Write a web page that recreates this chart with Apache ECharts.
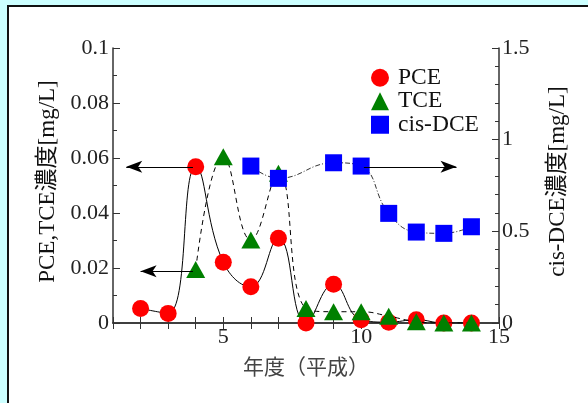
<!DOCTYPE html>
<html><head><meta charset="utf-8">
<script src="https://cdn.jsdelivr.net/npm/echarts@6/dist/echarts.min.js"></script>
<style>html,body{margin:0;padding:0;}#c{width:588px;height:403px;}</style>
</head><body><div id="c"></div>
<script>
var pceData = [[2,0.0053],[3,0.0035],[4,0.0568],[5,0.0221],[6,0.0132],[7,0.0308],[8,0.0],[9,0.0141],[10,0.0012],[11,0.0003],[12,0.0012],[13,0.0],[14,0.0]];
var tceData = [[4,0.0195],[5,0.0605],[6,0.0302],[7,0.0545],[8,0.0053],[9,0.0041],[10,0.0041],[11,0.0025],[12,0.0005],[13,0.0],[14,0.0]];
var dceData = [[6,0.856],[7,0.789],[9,0.874],[10,0.856],[11,0.598],[12,0.496],[13,0.489],[14,0.525]];
var leftTicks = [0,0.02,0.04,0.06,0.08,0.1];
var rightTicks = [0,0.5,1,1.5];
var xTickLabels = [5,10,15];
var arrowLeft1 = [[3.9,0.0568],[1.48,0.0568]];
var arrowLeft2 = [[3.9,0.0188],[2.0,0.0188]];
var arrowRight = [[10.1,0.852],[13.46,0.852]];

var serif = "'Liberation Serif','Noto Sans CJK JP',serif";
var axisCol = '#333';
function fmtLeft(v){ var r = leftTicks.filter(function(t){return Math.abs(t-v)<1e-9;}); return r.length ? String(r[0]) : ''; }
function fmtRight(v){ var r = rightTicks.filter(function(t){return Math.abs(t-v)<1e-9;}); return r.length ? String(r[0]) : ''; }
var chart = echarts.init(document.getElementById('c'), null, {renderer:'canvas'});
chart.setOption({
  backgroundColor:'#CCFFFF',
  animation:false,
  graphic:[{type:'rect', z:-10, silent:true, shape:{x:8,y:6,width:620,height:440}, style:{fill:'#fff', stroke:'#111', lineWidth:2}}],
  grid:{left:113, right:89, top:48, bottom:80},
  legend:{
    orient:'vertical', left:366, top:61, itemWidth:18, itemHeight:18, itemGap:0,
    textStyle:{fontFamily:serif, fontSize:23.5, lineHeight:23, color:'#111', padding:[0,0,0,4]},
    data:[{name:'PCE', icon:'circle'},{name:'TCE', icon:'triangle'},{name:'cis-DCE', icon:'rect'}]
  },
  xAxis:[{
    type:'value', min:1, max:15, interval:1, position:'bottom',
    name:'年度（平成）', nameLocation:'middle', nameGap:33,
    nameTextStyle:{fontFamily:"'Noto Sans CJK JP',sans-serif", fontSize:21, color:'#444'},
    axisLine:{lineStyle:{color:axisCol, width:1.5}},
    axisTick:{inside:true, length:6, lineStyle:{color:axisCol}},
    axisLabel:{margin:3, fontFamily:serif, fontSize:22, color:'#222', showMinLabel:true, showMaxLabel:true,
      formatter:function(v){ return xTickLabels.indexOf(v)>=0 ? String(v) : ''; }},
    splitLine:{show:false}
  },{
    type:'value', min:1, max:15, interval:1, position:'top',
    axisLine:{lineStyle:{color:axisCol, width:1.5}},
    axisTick:{inside:true, length:6, lineStyle:{color:axisCol}},
    axisLabel:{show:false}, splitLine:{show:false}
  }],
  yAxis:[{
    type:'value', min:0, max:0.1, interval:0.02, position:'left',
    name:'PCE,TCE濃度[mg/L]', nameLocation:'middle', nameGap:48, nameRotate:90,
    nameTextStyle:{fontFamily:serif, fontSize:23, color:'#111', padding:[0,0,0,8]},
    axisLine:{show:true, lineStyle:{color:axisCol, width:1.5}},
    axisTick:{show:true, inside:true, length:7, lineStyle:{color:axisCol}},
    minorTick:{show:true, splitNumber:2, length:4, lineStyle:{color:axisCol}},
    axisLabel:{margin:4, fontFamily:serif, fontSize:22, color:'#222', formatter:fmtLeft},
    splitLine:{show:false}
  },{
    type:'value', min:0, max:1.5, interval:0.5, position:'right',
    name:'cis-DCE濃度[mg/L]', nameLocation:'middle', nameGap:47, nameRotate:90,
    nameTextStyle:{fontFamily:serif, fontSize:23, color:'#111', padding:[0,0,0,8]},
    axisLine:{show:true, lineStyle:{color:axisCol, width:1.5}},
    axisTick:{show:true, inside:true, length:7, lineStyle:{color:axisCol}},
    minorTick:{show:true, splitNumber:5, length:4, lineStyle:{color:axisCol}},
    axisLabel:{margin:3, fontFamily:serif, fontSize:22, color:'#222', formatter:fmtRight},
    splitLine:{show:false}
  }],
  series:[{
    name:'PCE', type:'line', xAxisIndex:0, yAxisIndex:0, data:pceData, smooth:0.45,
    symbol:'circle', symbolSize:17, itemStyle:{color:'#FF0000'},
    lineStyle:{color:'#000', width:1, type:'solid'},
    markLine:{silent:true, symbol:['none','arrow'], symbolSize:[9,16], label:{show:false},
      lineStyle:{color:'#000', width:1.2, type:'solid'}, emphasis:{disabled:true},
      data:[[{coord:arrowLeft1[0]},{coord:arrowLeft1[1]}],[{coord:arrowLeft2[0]},{coord:arrowLeft2[1]}]]},
    z:2
  },{
    name:'TCE', type:'line', xAxisIndex:0, yAxisIndex:0, data:tceData, smooth:0.45,
    symbol:'triangle', symbolSize:[19,17], itemStyle:{color:'#008000'},
    lineStyle:{color:'#000', width:1, type:[5,4]},
    z:3
  },{
    name:'cis-DCE', type:'line', xAxisIndex:0, yAxisIndex:1, data:dceData, smooth:0.45,
    symbol:'rect', symbolSize:17, itemStyle:{color:'#0000FF'},
    lineStyle:{color:'#000', width:0.8, type:[5,2,1,2]},
    markLine:{silent:true, symbol:['none','arrow'], symbolSize:[9,16], label:{show:false},
      lineStyle:{color:'#000', width:1.2, type:'solid'}, emphasis:{disabled:true},
      data:[[{coord:arrowRight[0]},{coord:arrowRight[1]}]]},
    z:4
  }]
});
</script></body></html>
